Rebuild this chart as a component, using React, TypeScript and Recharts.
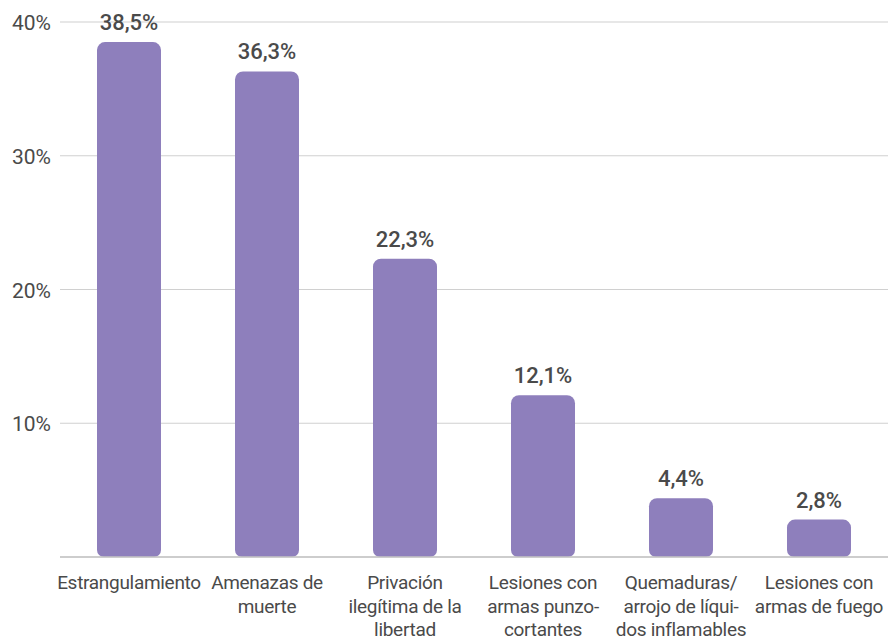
import { Bar, BarChart, CartesianGrid, LabelList, XAxis, YAxis } from "recharts";

const categories = [
  "Estrangulamiento",
  "Amenazas de\nmuerte",
  "Privación\nilegítima de la\nlibertad",
  "Lesiones con\narmas punzo-\ncortantes",
  "Quemaduras/\narrojo de líqui-\ndos inflamables",
  "Lesiones con\narmas de fuego",
];
const values = [38.5, 36.3, 22.3, 12.1, 4.4, 2.8];
const yTicks = [10, 20, 30, 40];

const data = categories.map((name, i) => ({ name, value: values[i] }));

const FONT = "Roboto, 'Noto Sans', sans-serif";
const TEXT = "#4a4a4a";

function XTick({ x, y, payload }: any) {
  const lines = String(payload.value).split("\n");
  return (
    <text x={x} y={y + 24} textAnchor="middle" fill={TEXT} fontSize={19} fontFamily={FONT} letterSpacing={-0.3}>
      {lines.map((l, i) => (
        <tspan key={i} x={x} dy={i === 0 ? 0 : 23.5}>
          {l}
        </tspan>
      ))}
    </text>
  );
}

function YTick({ y, payload }: any) {
  return (
    <text x={12} y={y + 8} textAnchor="start" fill={TEXT} fontSize={21} fontFamily={FONT}>
      {`${payload.value}%`}
    </text>
  );
}

export default function App() {
  return (
    <div style={{ position: "absolute", left: 0, top: 0, background: "#fff" }}>
      <BarChart
        width={888}
        height={644}
        data={data}
        margin={{ top: 22, right: 0, left: 0, bottom: 0 }}
      >
        <CartesianGrid vertical={false} stroke="#d0d0d0" strokeWidth={1.2} />
        <XAxis
          dataKey="name"
          interval={0}
          tickLine={false}
          axisLine={{ stroke: "#c4c4c4", strokeWidth: 1.5 }}
          tick={<XTick />}
          height={87}
        />
        <YAxis
          domain={[0, 40]}
          ticks={yTicks}
          axisLine={false}
          tickLine={false}
          tick={<YTick />}
          width={60}
        />
        <Bar dataKey="value" fill="#8e7fbc" barSize={64} radius={[8, 8, 7, 7]} isAnimationActive={false}>
          <LabelList
            dataKey="value"
            position="top"
            offset={12}
            formatter={(v: any) => `${String(v).replace(".", ",")}%`}
            fill={TEXT}
            fontSize={22}
            fontWeight={500}
            fontFamily={FONT}
          />
        </Bar>
      </BarChart>
    </div>
  );
}
